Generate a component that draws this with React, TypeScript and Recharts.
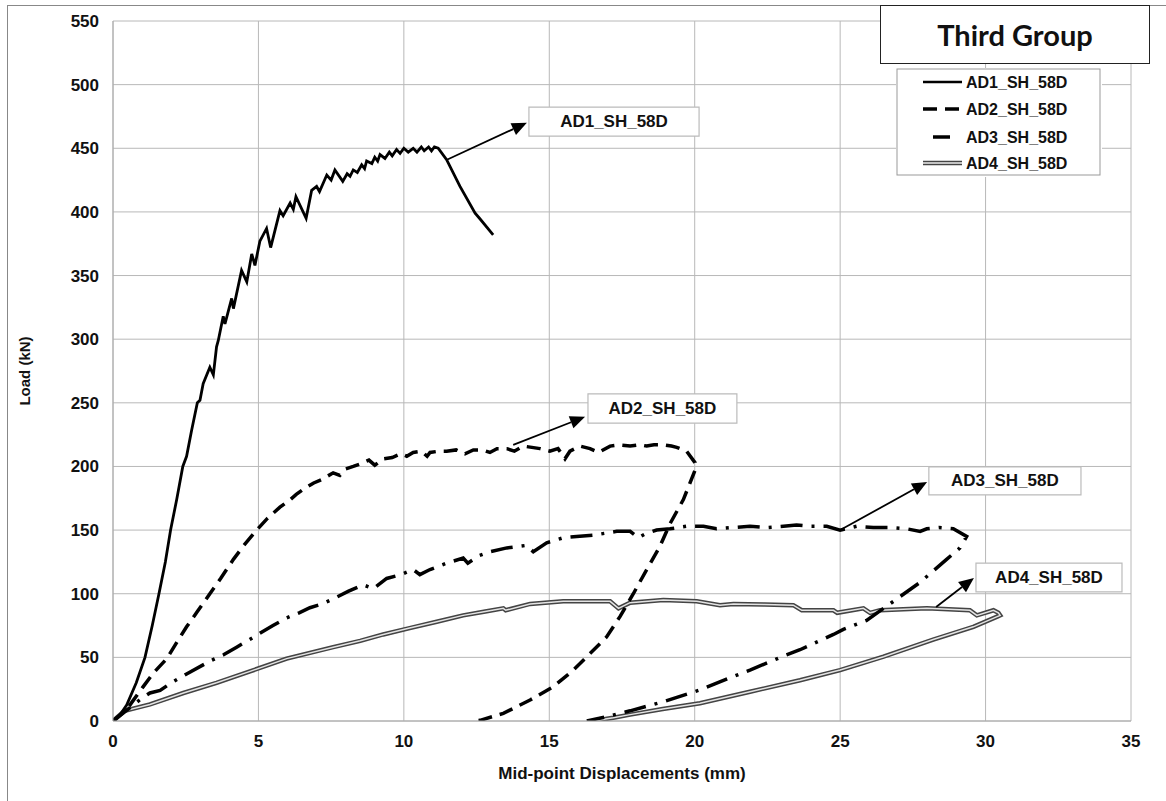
import {
  LineChart,
  Line,
  XAxis,
  YAxis,
  CartesianGrid,
  ReferenceLine,
  ReferenceArea,
} from "recharts";

const X_TICKS = [0, 5, 10, 15, 20, 25, 30, 35];
const Y_TICKS = [0, 50, 100, 150, 200, 250, 300, 350, 400, 450, 500, 550];
const SERIES_NAMES = ["AD1_SH_58D", "AD2_SH_58D", "AD3_SH_58D", "AD4_SH_58D"];

// AD1 - solid
const ad1X = [
  0, 0.25, 0.47, 0.8, 1.1, 1.35, 1.58, 1.8, 1.98, 2.19, 2.4, 2.53, 2.7, 2.9,
  2.99, 3.1, 3.33, 3.45, 3.56, 3.62, 3.79, 3.85, 4.08, 4.14, 4.42, 4.6, 4.77,
  4.88, 5.05, 5.28, 5.42, 5.74, 5.85, 6.09, 6.2, 6.29, 6.64, 6.83, 7.0, 7.1,
  7.35, 7.5, 7.63, 7.9, 8.05, 8.15, 8.26, 8.4, 8.55, 8.65, 8.72, 8.9, 9.0, 9.1,
  9.18, 9.35, 9.5, 9.6, 9.75, 9.87, 10.0, 10.15, 10.32, 10.45, 10.6, 10.7,
  10.85, 10.95, 11.05, 11.18, 11.47, 11.93, 12.45, 12.6, 13.07,
];
const ad1Y = [
  0, 5, 12.6, 30, 50, 75, 100, 125, 150, 174, 200, 208, 228, 250, 252, 265,
  278, 272, 294, 299, 318, 312, 332, 324, 354, 345, 367, 358, 377, 387, 372,
  401, 397, 407, 402, 412, 395, 417, 420, 416, 429, 425, 433, 424, 430, 428,
  433, 431, 437, 434, 440, 438, 443, 440, 445, 442, 447, 444, 449, 446, 450,
  447, 450, 447, 451, 448, 451, 448, 451, 450, 441, 420, 399, 395, 382,
];

// AD2 - dashed
const ad2X = [
  0, 0.3, 0.5, 0.69, 1.04, 1.4, 1.85, 2.2, 2.53, 2.9, 3.33, 3.7, 4.14, 4.5,
  4.94, 5.3, 5.74, 6.1, 6.3, 6.54, 6.9, 7.2, 7.57, 7.8, 8.0, 8.26, 8.5, 8.8,
  9.0, 9.29, 9.6, 9.9, 10.1, 10.32, 10.6, 10.8, 10.9, 11.2, 11.47, 11.8, 12.1,
  12.39, 12.7, 12.96, 13.2, 13.54, 13.8, 14.1, 14.4, 14.68, 15.02, 15.3, 15.54,
  15.71, 16.06, 16.4, 16.69, 17.09, 17.4, 17.78, 18.1, 18.35, 18.6, 18.92,
  19.2, 19.38, 19.72, 20.01, 20.01, 19.61, 19.15, 18.8, 18.35, 17.89, 17.43,
  16.97, 16.4, 15.83, 15.14, 14.34, 13.42, 12.62, 12.3,
];
const ad2Y = [
  0, 6, 10, 16, 27, 38, 49, 62, 74, 86, 100, 112, 127, 138, 150, 159, 168, 174,
  178, 182, 187, 190, 195, 193, 198, 200, 202, 205, 201, 206, 207, 210, 208,
  211, 212, 208, 211, 212, 212, 213, 210, 213, 213, 211, 214, 214, 212, 216,
  215, 214, 212, 214, 206, 212, 216, 214, 211, 216, 217, 216, 217, 216, 217,
  217, 216, 215, 212, 203, 197, 174, 155, 137, 119, 100, 82, 66, 53, 40, 27,
  16.5, 6, 0.5, 0,
];

// AD3 - dash-dot
const ad3X = [
  0, 0.5, 1.0, 1.27, 1.62, 2.0, 2.53, 3.33, 3.8, 4.25, 4.7, 5.05, 5.5, 5.97,
  6.4, 6.77, 7.2, 7.57, 8.1, 8.6, 8.95, 9.41, 9.9, 10.32, 10.55, 10.9, 11.47,
  12.04, 12.2, 12.6, 12.96, 13.54, 14.22, 14.45, 14.91, 15.48, 15.94, 16.51,
  17.32, 17.78, 18.06, 18.3, 18.69, 19.15, 19.72, 20.3, 20.75, 21.3, 21.9,
  22.5, 23.05, 23.5, 24.0, 24.54, 25.0, 25.57, 26.14, 26.7, 27.29, 27.75,
  27.98, 28.4, 28.89, 29.35, 29.12, 28.66, 27.75, 26.83, 25.91, 25.11, 24.77,
  23.62, 23.05, 21.9, 21.33, 20.18, 18.9, 17.78, 16.9, 16.29,
];
const ad3Y = [
  0, 9, 18, 22, 24, 30, 37, 47, 52, 58, 64, 69, 75, 81, 85, 89, 92, 96, 102,
  107, 104, 112, 115, 119, 115, 119, 124, 128, 124, 130, 133, 136, 138, 133,
  140, 144, 145, 146, 149, 149, 144, 147, 150, 151, 153, 153, 151, 152, 153,
  152, 153, 154, 153, 153, 150, 153, 152, 152, 151, 149, 151, 152, 151, 145,
  136, 127, 109, 94, 79, 72, 68, 56, 51, 40, 35, 24.4, 15, 8, 3, 0,
];

// AD4 - double line
const ad4X = [
  0, 0.4, 1.27, 2.42, 3.56, 4.71, 5.97, 7.57, 8.5, 9.29, 10.2, 11.13, 12.04,
  12.8, 13.42, 13.5, 14.34, 15.48, 16.3, 17.09, 17.38, 17.78, 18.92, 20.07,
  20.87, 21.33, 22.4, 23.39, 23.68, 24.77, 24.9, 25.8, 26.03, 26.37, 27.98,
  29.46, 29.7, 30.27, 30.44, 30.5, 30.4, 29.58, 28.2, 26.49, 25.0, 23.62, 21.9,
  20.18, 18.9, 17.78, 17.2, 16.5,
];
const ad4Y = [
  0, 8, 13, 22, 30, 39, 49, 58, 63, 68, 73, 78, 83, 86, 88.5, 87, 92, 94, 94,
  94, 88.5, 93, 95, 94, 91, 92, 91.5, 91, 87, 87, 85, 88.5, 85, 87, 88.5, 87,
  83, 87, 85, 83, 82, 74, 64, 50.5, 40, 32, 23, 14, 9.5, 5, 2.5, 0,
];

// callouts: arrow tail (on the curve), arrow head, label box
const calloutTail = [
  [11.48, 441],
  [13.76, 217],
  [25.05, 150.6],
  [28.3, 89.6],
];
const calloutHead = [
  [14.23, 470],
  [16.23, 239],
  [27.99, 187.8],
  [29.6, 112.4],
];
const calloutBoxX = [
  [14.3, 20.15],
  [16.33, 21.45],
  [28.05, 33.28],
  [29.67, 34.69],
];
const calloutBoxY = [
  [459.6, 482.4],
  [234, 257],
  [177.6, 199.6],
  [101.4, 124.1],
];

const zip = (xs: number[], ys: number[]) =>
  xs.map((x, i) => ({ x, y: ys[i] }));

const ad1 = zip(ad1X, ad1Y);
const ad2 = zip(ad2X, ad2Y);
const ad3 = zip(ad3X, ad3Y);
const ad4 = zip(ad4X, ad4Y);

const FONT = "'Liberation Sans', Arial, sans-serif";

const Arrow = (props: any) => {
  const { x1, y1, x2, y2 } = props;
  const ang = Math.atan2(y2 - y1, x2 - x1);
  const len = 15;
  const half = 6.5;
  const bx = x2 - len * Math.cos(ang);
  const by = y2 - len * Math.sin(ang);
  const px = -Math.sin(ang) * half;
  const py = Math.cos(ang) * half;
  return (
    <g>
      <line x1={x1} y1={y1} x2={bx} y2={by} stroke="#000" strokeWidth={1.8} />
      <polygon
        points={`${x2},${y2} ${bx + px},${by + py} ${bx - px},${by - py}`}
        fill="#000"
      />
    </g>
  );
};

const boxLabel = (text: string) => (props: any) => {
  const { x, y, width, height } = props.viewBox;
  return (
    <text
      x={x + width / 2}
      y={y + height / 2}
      textAnchor="middle"
      dominantBaseline="central"
      fontFamily={FONT}
      fontWeight={700}
      fontSize={17}
      fill="#111"
    >
      {text}
    </text>
  );
};

const XTitle = (props: any) => {
  const { x, y, width } = props.viewBox;
  return (
    <text
      x={x + width / 2}
      y={y + 52}
      textAnchor="middle"
      dominantBaseline="central"
      fontFamily={FONT}
      fontWeight={700}
      fontSize={17}
      fill="#111"
    >
      Mid-point Displacements (mm)
    </text>
  );
};

const YTitle = (props: any) => {
  const { x, y, height } = props.viewBox;
  const cx = x + 24;
  const cy = y + height / 2;
  return (
    <text
      x={cx}
      y={cy}
      transform={`rotate(-90 ${cx} ${cy})`}
      textAnchor="middle"
      dominantBaseline="central"
      fontFamily={FONT}
      fontWeight={700}
      fontSize={15}
      fill="#111"
    >
      Load (kN)
    </text>
  );
};

const Legend = () => (
  <svg
    width={206}
    height={109}
    style={{ position: "absolute", left: 896, top: 68, background: "#fff" }}
  >
    <rect x={1} y={1} width={203} height={106} fill="#fff" stroke="#999" />
    <line x1={27} y1={14} x2={66} y2={14} stroke="#000" strokeWidth={2.5} />
    <line
      x1={27}
      y1={41}
      x2={66}
      y2={41}
      stroke="#000"
      strokeWidth={3.5}
      strokeDasharray="14 8"
    />
    <line x1={37} y1={69} x2={54} y2={69} stroke="#000" strokeWidth={3.5} />
    <line x1={27} y1={95} x2={66} y2={95} stroke="#444" strokeWidth={4.5} />
    <line x1={27} y1={95} x2={66} y2={95} stroke="#eee" strokeWidth={1.5} />
    {SERIES_NAMES.map((n, i) => (
      <text
        key={n}
        x={70}
        y={[14, 41, 69, 95][i]}
        dominantBaseline="central"
        fontFamily={FONT}
        fontWeight={700}
        fontSize={16}
        fill="#111"
      >
        {n}
      </text>
    ))}
  </svg>
);

export default function App() {
  return (
    <div
      style={{
        position: "absolute",
        left: 0,
        top: 0,
        width: 1166,
        height: 801,
        background: "#fff",
        overflow: "hidden",
      }}
    >
      <div
        style={{
          position: "absolute",
          left: 7,
          top: 5,
          width: 1200,
          height: 900,
          borderLeft: "1.5px solid #888",
          borderTop: "1.5px solid #888",
        }}
      />
      <div style={{ position: "absolute", left: 0, top: 0 }}>
        <LineChart
          width={1166}
          height={801}
          margin={{ top: 21, right: 35, bottom: 20, left: 0 }}
        >
          <CartesianGrid stroke="#b8b8b8" strokeWidth={1} />
          <XAxis
            type="number"
            dataKey="x"
            domain={[0, 35]}
            ticks={X_TICKS}
            allowDataOverflow
            height={60}
            tickLine={false}
            tickSize={6}
            tickMargin={8}
            axisLine={{ stroke: "#aaa" }}
            tick={{ fill: "#111", fontSize: 17, fontWeight: 700, fontFamily: FONT }}
            label={<XTitle />}
          />
          <YAxis
            type="number"
            dataKey="y"
            domain={[0, 550]}
            ticks={Y_TICKS}
            allowDataOverflow
            width={113}
            tickLine={false}
            tickSize={6}
            tickMargin={8}
            axisLine={{ stroke: "#aaa" }}
            tick={{ fill: "#111", fontSize: 17, fontWeight: 700, fontFamily: FONT }}
            label={<YTitle />}
          />
          <Line
            data={ad4}
            dataKey="y"
            name="AD4 outer"
            type="linear"
            stroke="#444"
            strokeWidth={4.5}
            dot={false}
            activeDot={false}
            isAnimationActive={false}
          />
          <Line
            data={ad4}
            dataKey="y"
            name="AD4 inner"
            type="linear"
            stroke="#e4e4e4"
            strokeWidth={1.5}
            dot={false}
            activeDot={false}
            isAnimationActive={false}
          />
          <Line
            data={ad3}
            dataKey="y"
            name={SERIES_NAMES[2]}
            type="linear"
            stroke="#000"
            strokeWidth={3.5}
            strokeDasharray="22 9 3 9"
            dot={false}
            activeDot={false}
            isAnimationActive={false}
          />
          <Line
            data={ad2}
            dataKey="y"
            name={SERIES_NAMES[1]}
            type="linear"
            stroke="#000"
            strokeWidth={3.5}
            strokeDasharray="14 8"
            dot={false}
            activeDot={false}
            isAnimationActive={false}
          />
          <Line
            data={ad1}
            dataKey="y"
            name={SERIES_NAMES[0]}
            type="linear"
            stroke="#000"
            strokeWidth={2.8}
            dot={false}
            activeDot={false}
            isAnimationActive={false}
          />
          {SERIES_NAMES.map((n, i) => (
            <ReferenceLine
              key={"arrow" + n}
              segment={[
                { x: calloutTail[i][0], y: calloutTail[i][1] },
                { x: calloutHead[i][0], y: calloutHead[i][1] },
              ]}
              shape={Arrow}
            />
          ))}
          {SERIES_NAMES.map((n, i) => (
            <ReferenceArea
              key={"box" + n}
              x1={calloutBoxX[i][0]}
              x2={calloutBoxX[i][1]}
              y1={calloutBoxY[i][0]}
              y2={calloutBoxY[i][1]}
              fill="#fff"
              fillOpacity={1}
              stroke="#bbb"
              strokeWidth={1.2}
              label={boxLabel(n)}
            />
          ))}
        </LineChart>
      </div>
      <div
        style={{
          position: "absolute",
          left: 880,
          top: 5,
          width: 268,
          height: 57,
          border: "1.5px solid #222",
          background: "#fff",
          display: "flex",
          alignItems: "center",
          justifyContent: "center",
          fontFamily: "Lato, 'Open Sans', sans-serif",
          fontWeight: 700,
          fontSize: 29,
          color: "#111",
        }}
      >
        Third Group
      </div>
      <Legend />
    </div>
  );
}
